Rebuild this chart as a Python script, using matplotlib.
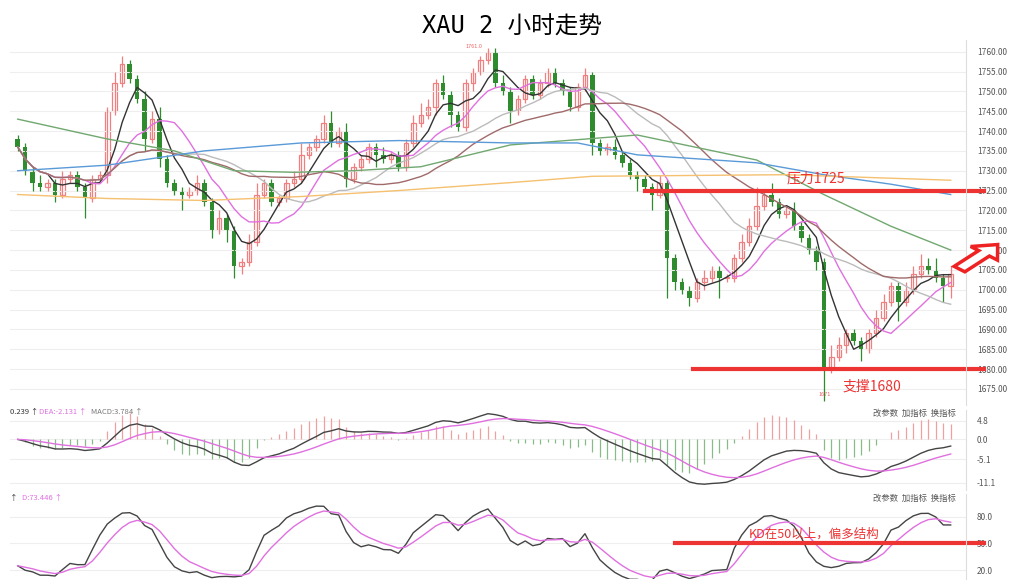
import numpy as np
import pandas as pd
import matplotlib
matplotlib.use('Agg')
import matplotlib.pyplot as plt
from matplotlib.patches import FancyArrow

plt.rcParams['font.family'] = ['Noto Sans CJK SC', 'DejaVu Sans']

# closes, one per 2h candle
closes = [1736, 1730, 1727, 1726, 1727, 1724, 1728, 1729, 1726, 1723, 1728, 1729,
          1745, 1752, 1757, 1753, 1748, 1738, 1743, 1733, 1727, 1725, 1724, 1725,
          1727, 1722, 1715, 1718, 1715, 1706, 1707, 1712, 1724, 1727, 1722, 1723,
          1727, 1728, 1734, 1736, 1738, 1742, 1737, 1740, 1728, 1731, 1733, 1736,
          1734, 1733, 1734, 1731, 1737, 1742, 1744, 1746, 1752, 1749, 1744, 1741,
          1752, 1755, 1758, 1760, 1752, 1750, 1745, 1748, 1753, 1749, 1752, 1755,
          1752, 1750, 1746, 1751, 1754, 1737, 1735, 1736, 1734, 1732, 1729, 1728,
          1726, 1724, 1727, 1708, 1702, 1700, 1698, 1702, 1703, 1705, 1703, 1703,
          1708, 1712, 1716, 1721, 1724, 1722, 1719, 1720, 1716, 1713, 1710, 1707,
          1680, 1683, 1686, 1689, 1687, 1685, 1689, 1693, 1697, 1701, 1697, 1700,
          1704, 1706, 1705, 1703, 1701, 1704]
first_open = 1738
# wick extensions above / below body (read roughly)
up_wick = [1, 1, 1, 2, 1, 1, 2, 1, 1, 1, 1, 1, 1, 3, 2, 1, 1, 2, 2, 3, 1, 1, 1, 1,
           2, 1, 1, 2, 1, 1, 1, 2, 3, 1, 1, 1, 1, 2, 3, 1, 1, 2, 3, 1, 2, 1, 1, 1,
           1, 2, 1, 1, 1, 2, 3, 2, 1, 2, 1, 1, 1, 1, 1, 1, 1, 2, 1, 1, 1, 1, 1, 1,
           1, 1, 1, 1, 2, 1, 1, 1, 2, 1, 1, 1, 1, 1, 2, 1, 1, 1, 1, 1, 2, 1, 1, 1,
           1, 2, 2, 5, 1, 3, 1, 1, 2, 1, 1, 1, 1, 3, 2, 1, 1, 1, 1, 2, 2, 1, 1, 2,
           2, 3, 2, 3, 1, 2]
dn_wick = [1, 1, 2, 1, 1, 2, 1, 1, 1, 5, 1, 1, 2, 1, 1, 1, 1, 3, 1, 2, 1, 1, 4, 1,
           1, 1, 2, 1, 3, 3, 2, 1, 1, 1, 1, 1, 1, 1, 1, 1, 1, 1, 1, 1, 2, 1, 1, 1,
           3, 1, 1, 1, 1, 1, 1, 1, 2, 1, 3, 1, 1, 2, 1, 1, 1, 1, 3, 1, 1, 1, 1, 1,
           1, 1, 1, 1, 1, 3, 1, 1, 1, 1, 1, 3, 1, 4, 1, 10, 2, 1, 2, 1, 2, 1, 5, 1,
           1, 1, 1, 1, 1, 1, 1, 1, 1, 1, 1, 2, 8, 1, 1, 2, 1, 3, 1, 1, 1, 1, 5, 1,
           1, 1, 1, 1, 4, 3]

# long moving averages, sampled values
ma60_idx = [0, 12, 21, 29, 37, 45, 54, 66, 83, 99, 108, 117, 125]
ma60_val = [1743, 1738, 1735, 1730, 1729.6, 1730, 1731, 1736.5, 1739, 1732.7, 1724, 1716, 1710]
ma120_idx = [0, 12, 25, 38, 51, 66, 75, 83, 99, 108, 117, 125]
ma120_val = [1730, 1731.4, 1735, 1737, 1737.6, 1737, 1737, 1734, 1732, 1729, 1726.6, 1724]
ma250_idx = [0, 12, 25, 38, 51, 66, 77, 90, 103, 125]
ma250_val = [1724, 1723, 1722.5, 1723.5, 1725, 1727, 1728.6, 1728.8, 1729, 1727.6]

c = pd.Series(closes, dtype=float)
o = pd.Series([first_open] + closes[:-1], dtype=float)
h = np.maximum(o, c) + np.array(up_wick)
l = np.minimum(o, c) - np.array(dn_wick)
idx = np.arange(len(c))

fig = plt.figure(figsize=(10.24, 5.85), dpi=100)
fig.text(0.5, 0.955, 'XAU 2 小时走势', ha='center', va='center', fontsize=17,
         family=['DejaVu Sans Mono', 'Noto Sans CJK SC'])


def style_panel(a, ticks, labels):
    a.set_xlim(-1, 127)
    a.yaxis.tick_right()
    a.set_yticks(ticks)
    a.set_yticklabels(labels, fontsize=6, color='#555555')
    a.tick_params(axis='y', length=0, pad=8)
    a.set_xticks([])
    a.grid(axis='y', color='#eeeeee', lw=0.8)
    for s in ['top', 'left', 'bottom']:
        a.spines[s].set_visible(False)
    a.spines['right'].set_color('#dddddd')


ax = fig.add_axes([0.01, 0.308, 0.933, 0.624])
up_col, dn_col = '#f08080', '#2e8b2e'
for i in idx:
    col = up_col if c[i] >= o[i] else dn_col
    ax.vlines(i, l[i], h[i], color=col, lw=0.9)
    bot = min(o[i], c[i]); hgt = max(abs(c[i] - o[i]), 0.3)
    if c[i] >= o[i]:
        ax.bar(i, hgt, bottom=bot, width=0.6, facecolor='white', edgecolor=col, lw=0.9)
    else:
        ax.bar(i, hgt, bottom=bot, width=0.6, color=col)

ax.plot(idx, c.rolling(5, min_periods=1).mean(), color='#333333', lw=1)
ax.plot(idx, c.rolling(10, min_periods=1).mean(), color='#e070e0', lw=1)
ax.plot(idx, c.rolling(20, min_periods=1).mean(), color='#bbbbbb', lw=1)
ax.plot(idx, c.rolling(30, min_periods=1).mean(), color='#a06a6a', lw=1)
ax.plot(ma60_idx, ma60_val, color='#70a870', lw=1)
ax.plot(ma120_idx, ma120_val, color='#5a9ad8', lw=1)
ax.plot(ma250_idx, ma250_val, color='#f5c070', lw=1)

ax.set_ylim(1671, 1763)
yt = np.arange(1675, 1761, 5)
style_panel(ax, yt, [f'{v:.2f}' for v in yt])

ax.plot([84, 129.5], [1725, 1725], color='#ee3333', lw=3, clip_on=False)
ax.plot([90.5, 129.5], [1680, 1680], color='#ee3333', lw=3, clip_on=False)
ax.text(103, 1727, '压力1725', color='#ee3333', fontsize=10)
ax.text(110.5, 1675.5, '支撑1680', color='#ee3333', fontsize=10, va='center')
ax.text(107.3, 1673.3, '1671', color='#ee6666', fontsize=4)
ax.text(60, 1761, '1761.0', color='#ee6666', fontsize=4)

fig.patches.append(FancyArrow(0.937, 0.54, 0.024, 0.027, width=0.014, head_width=0.035,
                              head_length=0.02, transform=fig.transFigure,
                              facecolor='white', edgecolor='#ee2222', lw=2.5))

# MACD
ema12 = c.ewm(span=12, adjust=False).mean()
ema26 = c.ewm(span=26, adjust=False).mean()
dif = ema12 - ema26
dea = dif.ewm(span=9, adjust=False).mean()
hist = dif - dea
ax2 = fig.add_axes([0.01, 0.162, 0.933, 0.137])
ax2.vlines(idx, 0, hist * 2, colors=np.where(hist >= 0, '#f0a0a0', '#88bb88'), lw=0.9)
ax2.plot(idx, dif, color='#444444', lw=1)
ax2.plot(idx, dea, color='#e070e0', lw=1)
ax2.set_ylim(-13, 7.5)
style_panel(ax2, [4.8, 0.0, -5.1, -11.1], ['4.8', '0.0', '-5.1', '-11.1'])
ax2.text(0, 1.02, '0.239 ↑', transform=ax2.transAxes, fontsize=5.5, color='#333333', va='top')
ax2.text(0.03, 1.02, 'DEA:-2.131 ↑', transform=ax2.transAxes, fontsize=5.5, color='#e070e0', va='top')
ax2.text(0.085, 1.02, 'MACD:3.784 ↑', transform=ax2.transAxes, fontsize=5.5, color='#777777', va='top')
ax2.text(0.99, 1.02, '改参数  加指标  换指标', transform=ax2.transAxes, fontsize=6, color='#555555', va='top', ha='right')

# KD
lo9 = pd.Series(l).rolling(9, min_periods=1).min()
hi9 = pd.Series(h).rolling(9, min_periods=1).max()
rsv = (c - lo9) / (hi9 - lo9) * 100
k = rsv.ewm(com=2, adjust=False).mean()
d = k.ewm(com=2, adjust=False).mean()
ax3 = fig.add_axes([0.01, 0.01, 0.933, 0.145])
ax3.plot(idx, k, color='#444444', lw=1)
ax3.plot(idx, d, color='#e070e0', lw=1)
ax3.plot([88, 129.5], [50, 50], color='#ee3333', lw=3, clip_on=False)
ax3.text(98, 56, 'KD在50以上，偏多结构', color='#ee3333', fontsize=9)
ax3.set_ylim(10, 105)
style_panel(ax3, [80, 50, 20], ['80.0', '50.0', '20.0'])
ax3.text(0, 1.0, '↑', transform=ax3.transAxes, fontsize=5.5, color='#333333', va='top')
ax3.text(0.012, 1.0, 'D:73.446 ↑', transform=ax3.transAxes, fontsize=5.5, color='#e070e0', va='top')
ax3.text(0.99, 1.0, '改参数  加指标  换指标', transform=ax3.transAxes, fontsize=6, color='#555555', va='top', ha='right')

fig.savefig('out.png', dpi=100)
